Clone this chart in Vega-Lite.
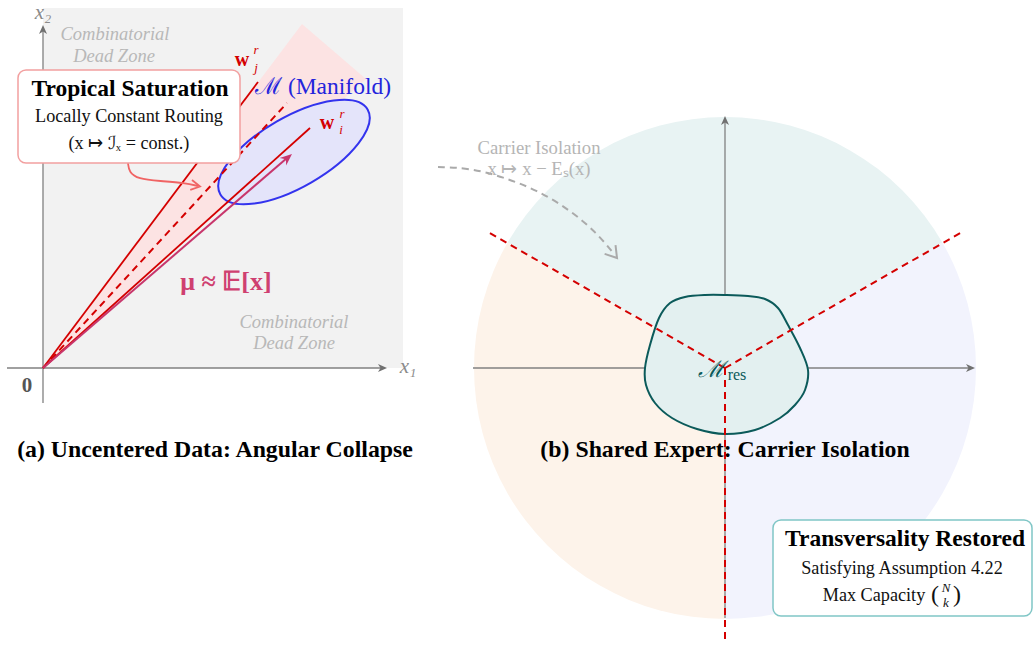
{
  "$schema": "https://vega.github.io/schema/vega-lite/v6.json",
  "width": 1034,
  "height": 645,
  "autosize": {"type": "fit", "contains": "padding"},
  "padding": 0,
  "background": "white",
  "config": {"view": {"stroke": null}, "text": {"font": "Liberation Serif"}},
  "datasets": {
    "bg": [{"x": 43, "y": 8, "x2": 403, "y2": 368}],
    "cone": [{"x": 43, "y": 368, "y2": 368}, {"x": 302, "y": 24, "y2": 136}, {"x": 366, "y": 79, "y2": 79}],
    "sectors": [
      {"x": 725, "y": 368, "sector": "top", "t1": 300, "t2": 420},
      {"x": 725, "y": 368, "sector": "right", "t1": 60, "t2": 180},
      {"x": 725, "y": 368, "sector": "left", "t1": 180, "t2": 300}
    ],
    "ellipse": [{"x": 294, "y": 152}],
    "axes": [
      {"x": 7, "y": 368, "x2": 381, "y2": 368},
      {"x": 43, "y": 403, "x2": 43, "y2": 31},
      {"x": 473, "y": 368, "x2": 969, "y2": 368},
      {"x": 725, "y": 618, "x2": 725, "y2": 122}
    ],
    "axisHeads": [
      {"x": 387, "y": 368, "a": 0},
      {"x": 43, "y": 25, "a": -90},
      {"x": 975, "y": 368, "a": 0},
      {"x": 725, "y": 116, "a": -90}
    ],
    "blob": [
      {"i": 0, "x": 725, "y": 295}, {"i": 1, "x": 748, "y": 296}, {"i": 2, "x": 765, "y": 299},
      {"i": 3, "x": 778, "y": 308}, {"i": 4, "x": 788, "y": 325}, {"i": 5, "x": 800, "y": 348},
      {"i": 6, "x": 808, "y": 370}, {"i": 7, "x": 805, "y": 390}, {"i": 8, "x": 795, "y": 405},
      {"i": 9, "x": 780, "y": 418}, {"i": 10, "x": 755, "y": 430}, {"i": 11, "x": 725, "y": 434},
      {"i": 12, "x": 697, "y": 429}, {"i": 13, "x": 672, "y": 418}, {"i": 14, "x": 655, "y": 403},
      {"i": 15, "x": 646, "y": 385}, {"i": 16, "x": 645, "y": 368}, {"i": 17, "x": 650, "y": 345},
      {"i": 18, "x": 659, "y": 318}, {"i": 19, "x": 670, "y": 303}, {"i": 20, "x": 685, "y": 297},
      {"i": 21, "x": 705, "y": 295}
    ],
    "redSolid": [
      {"x": 43, "y": 368, "x2": 258, "y2": 82},
      {"x": 43, "y": 368, "x2": 310, "y2": 128}
    ],
    "redDashed": [
      {"x": 43, "y": 368, "x2": 287, "y2": 103},
      {"x": 725, "y": 368, "x2": 488, "y2": 232},
      {"x": 725, "y": 368, "x2": 962, "y2": 232},
      {"x": 725, "y": 368, "x2": 725, "y2": 640}
    ],
    "mu": [{"x": 43, "y": 368, "x2": 287, "y2": 158}],
    "muHead": [{"x": 292, "y": 154, "a": -40.7}],
    "salmon": [
      {"i": 0, "x": 128, "y": 163}, {"i": 1, "x": 129, "y": 172}, {"i": 2, "x": 138, "y": 179},
      {"i": 3, "x": 160, "y": 181}, {"i": 4, "x": 185, "y": 183}, {"i": 5, "x": 198, "y": 186}
    ],
    "salmonHead": [{"x": 200, "y": 186.5, "a": 10}],
    "greyCurve": [
      {"i": 0, "x": 438, "y": 167}, {"i": 1, "x": 470, "y": 168}, {"i": 2, "x": 503, "y": 177},
      {"i": 3, "x": 537, "y": 190}, {"i": 4, "x": 570, "y": 210}, {"i": 5, "x": 597, "y": 233},
      {"i": 6, "x": 614, "y": 254}
    ],
    "greyHead": [{"x": 617, "y": 258, "a": 51}],
    "boxA": [{"x": 18, "y": 70, "x2": 240, "y2": 163}],
    "boxB": [{"x": 773, "y": 520, "x2": 1032, "y2": 616}],
    "deadZone": [
      {"x": 115, "y": 34, "t": "Combinatorial"}, {"x": 114, "y": 56, "t": "Dead Zone"},
      {"x": 294, "y": 322, "t": "Combinatorial"}, {"x": 294, "y": 343, "t": "Dead Zone"}
    ],
    "boxTitles": [
      {"x": 130, "y": 89, "t": "Tropical Saturation"},
      {"x": 905, "y": 539, "t": "Transversality Restored"}
    ],
    "boxBody": [
      {"x": 129, "y": 117, "t": "Locally Constant Routing"},
      {"x": 129, "y": 144, "t": "(x ↦ ℐₓ = const.)"},
      {"x": 902, "y": 569, "t": "Satisfying Assumption 4.22"},
      {"x": 874, "y": 596, "t": "Max Capacity"}
    ],
    "parens": [{"x": 935, "y": 595, "t": "("}, {"x": 957, "y": 595, "t": ")"}],
    "binom": [{"x": 946, "y": 588, "t": "N"}, {"x": 946, "y": 603, "t": "k"}],
    "captions": [
      {"x": 215, "y": 450, "t": "(a) Uncentered Data: Angular Collapse"},
      {"x": 725, "y": 450, "t": "(b) Shared Expert: Carrier Isolation"}
    ],
    "manifold": [{"x": 323, "y": 87, "t": "ℳ (Manifold)"}],
    "wBase": [{"x": 242, "y": 60, "t": "w"}, {"x": 327, "y": 123, "t": "w"}],
    "wScript": [
      {"x": 256, "y": 50, "t": "r"}, {"x": 256, "y": 68, "t": "j"},
      {"x": 342, "y": 114, "t": "r"}, {"x": 341, "y": 130, "t": "i"}
    ],
    "muLabel": [{"x": 226, "y": 282, "t": "μ ≈ 𝔼[x]"}],
    "axisLabels": [{"x": 408, "y": 367, "t": "x₁"}, {"x": 43, "y": 13, "t": "x₂"}],
    "zero": [{"x": 27, "y": 386, "t": "0"}],
    "carrier": [
      {"x": 539, "y": 148, "t": "Carrier Isolation"},
      {"x": 539, "y": 169, "t": "x ↦ x − Eₛ(x)"}
    ],
    "mres": [{"x": 711, "y": 370, "t": "ℳ"}],
    "mresSub": [{"x": 737, "y": 375, "t": "res"}]
  },
  "encoding": {
    "x": {"field": "x", "type": "quantitative", "axis": null, "scale": {"domain": [0, 1034], "nice": false, "zero": false}},
    "y": {"field": "y", "type": "quantitative", "axis": null, "scale": {"domain": [0, 645], "reverse": true, "nice": false, "zero": false}}
  },
  "layer": [
    {"data": {"name": "bg"}, "mark": {"type": "rect", "fill": "#f2f2f2"},
     "encoding": {"x2": {"field": "x2"}, "y2": {"field": "y2"}}},
    {"data": {"name": "sectors"}, "mark": {"type": "arc", "radius": 251},
     "encoding": {
       "theta": {"field": "t1", "type": "quantitative", "stack": null, "scale": {"domain": [0, 360], "range": [0, 6.283185307179586]}},
       "theta2": {"field": "t2"},
       "color": {"field": "sector", "type": "nominal", "legend": null, "scale": {"domain": ["top", "right", "left"], "range": ["#e8f3f3", "#f2f3fd", "#fdf3ea"]}}
     }},
    {"data": {"name": "cone"}, "mark": {"type": "area", "fill": "#fce3e3", "opacity": 1},
     "encoding": {"y2": {"field": "y2"}}},
    {"data": {"name": "ellipse"},
     "mark": {"type": "point", "shape": "M -85 0 A 85 35 0 1 0 85 0 A 85 35 0 1 0 -85 0 Z", "size": 4, "angle": -30, "filled": true, "fill": "#e4e4fa", "stroke": "#3333ee", "strokeWidth": 2, "opacity": 1}},
    {"data": {"name": "axes"}, "mark": {"type": "rule", "color": "#808080", "strokeWidth": 1.3},
     "encoding": {"x2": {"field": "x2"}, "y2": {"field": "y2"}}},
    {"data": {"name": "axisHeads"},
     "mark": {"type": "point", "shape": "M 0 0 L -9 -4 L -6.5 0 L -9 4 Z", "size": 4, "filled": true, "fill": "#707070", "strokeWidth": 0, "opacity": 1},
     "encoding": {"angle": {"field": "a", "type": "quantitative", "scale": null}}},
    {"data": {"name": "blob"},
     "mark": {"type": "line", "interpolate": "cardinal-closed", "fill": "#e3f0f0", "stroke": "#0b5a5a", "strokeWidth": 2},
     "encoding": {"order": {"field": "i", "type": "quantitative"}}},
    {"data": {"name": "redSolid"}, "mark": {"type": "rule", "color": "#d40000", "strokeWidth": 1.8},
     "encoding": {"x2": {"field": "x2"}, "y2": {"field": "y2"}}},
    {"data": {"name": "redDashed"}, "mark": {"type": "rule", "color": "#d40000", "strokeWidth": 2, "strokeDash": [7, 5]},
     "encoding": {"x2": {"field": "x2"}, "y2": {"field": "y2"}}},
    {"data": {"name": "mu"}, "mark": {"type": "rule", "color": "#c8366c", "strokeWidth": 2},
     "encoding": {"x2": {"field": "x2"}, "y2": {"field": "y2"}}},
    {"data": {"name": "muHead"},
     "mark": {"type": "point", "shape": "M 0 0 L -12 -5 L -8 0 L -12 5 Z", "size": 4, "filled": true, "fill": "#c8366c", "strokeWidth": 0, "opacity": 1},
     "encoding": {"angle": {"field": "a", "type": "quantitative", "scale": null}}},
    {"data": {"name": "salmon"}, "mark": {"type": "line", "interpolate": "basis", "color": "#f06464", "strokeWidth": 1.8},
     "encoding": {"order": {"field": "i", "type": "quantitative"}}},
    {"data": {"name": "salmonHead"},
     "mark": {"type": "point", "shape": "M -9 -5 L 0 0 L -9 5", "size": 4, "filled": false, "stroke": "#f06464", "strokeWidth": 1.8, "opacity": 1},
     "encoding": {"angle": {"field": "a", "type": "quantitative", "scale": null}}},
    {"data": {"name": "greyCurve"}, "mark": {"type": "line", "interpolate": "basis", "color": "#aaaaaa", "strokeWidth": 2, "strokeDash": [7, 5]},
     "encoding": {"order": {"field": "i", "type": "quantitative"}}},
    {"data": {"name": "greyHead"},
     "mark": {"type": "point", "shape": "M -11 -7 L 0 0 L -11 7", "size": 4, "filled": false, "stroke": "#aaaaaa", "strokeWidth": 2, "opacity": 1},
     "encoding": {"angle": {"field": "a", "type": "quantitative", "scale": null}}},
    {"data": {"name": "boxA"}, "mark": {"type": "rect", "fill": "#000000", "opacity": 0.12, "cornerRadius": 8, "xOffset": 2, "yOffset": 3},
     "encoding": {"x2": {"field": "x2"}, "y2": {"field": "y2"}}},
    {"data": {"name": "boxA"}, "mark": {"type": "rect", "fill": "white", "stroke": "#f2a0a0", "strokeWidth": 1.5, "cornerRadius": 8},
     "encoding": {"x2": {"field": "x2"}, "y2": {"field": "y2"}}},
    {"data": {"name": "boxB"}, "mark": {"type": "rect", "fill": "#000000", "opacity": 0.12, "cornerRadius": 8, "xOffset": 2, "yOffset": 3},
     "encoding": {"x2": {"field": "x2"}, "y2": {"field": "y2"}}},
    {"data": {"name": "boxB"}, "mark": {"type": "rect", "fill": "white", "stroke": "#80c6c6", "strokeWidth": 1.5, "cornerRadius": 8},
     "encoding": {"x2": {"field": "x2"}, "y2": {"field": "y2"}}},
    {"data": {"name": "deadZone"}, "mark": {"type": "text", "fontSize": 18.5, "fontStyle": "italic", "color": "#b8b8b8", "align": "center", "baseline": "middle"},
     "encoding": {"text": {"field": "t"}}},
    {"data": {"name": "boxTitles"}, "mark": {"type": "text", "fontSize": 23.5, "fontWeight": "bold", "color": "#000000", "align": "center", "baseline": "middle"},
     "encoding": {"text": {"field": "t"}}},
    {"data": {"name": "boxBody"}, "mark": {"type": "text", "fontSize": 18.2, "color": "#111111", "align": "center", "baseline": "middle"},
     "encoding": {"text": {"field": "t"}}},
    {"data": {"name": "parens"}, "mark": {"type": "text", "fontSize": 24, "color": "#111111", "align": "center", "baseline": "middle"},
     "encoding": {"text": {"field": "t"}}},
    {"data": {"name": "binom"}, "mark": {"type": "text", "fontSize": 13, "fontStyle": "italic", "color": "#111111", "align": "center", "baseline": "middle"},
     "encoding": {"text": {"field": "t"}}},
    {"data": {"name": "captions"}, "mark": {"type": "text", "fontSize": 23.8, "fontWeight": "bold", "color": "#000000", "align": "center", "baseline": "middle"},
     "encoding": {"text": {"field": "t"}}},
    {"data": {"name": "manifold"}, "mark": {"type": "text", "fontSize": 23.5, "color": "#2424dc", "align": "center", "baseline": "middle"},
     "encoding": {"text": {"field": "t"}}},
    {"data": {"name": "wBase"}, "mark": {"type": "text", "fontSize": 20, "fontWeight": "bold", "color": "#d40000", "align": "center", "baseline": "middle"},
     "encoding": {"text": {"field": "t"}}},
    {"data": {"name": "wScript"}, "mark": {"type": "text", "fontSize": 13, "fontStyle": "italic", "color": "#d40000", "align": "center", "baseline": "middle"},
     "encoding": {"text": {"field": "t"}}},
    {"data": {"name": "muLabel"}, "mark": {"type": "text", "fontSize": 26, "fontWeight": "bold", "color": "#cf4070", "align": "center", "baseline": "middle"},
     "encoding": {"text": {"field": "t"}}},
    {"data": {"name": "axisLabels"}, "mark": {"type": "text", "fontSize": 21, "fontStyle": "italic", "color": "#8a8a8a", "align": "center", "baseline": "middle"},
     "encoding": {"text": {"field": "t"}}},
    {"data": {"name": "zero"}, "mark": {"type": "text", "fontSize": 21, "fontWeight": "bold", "color": "#555555", "align": "center", "baseline": "middle"},
     "encoding": {"text": {"field": "t"}}},
    {"data": {"name": "carrier"}, "mark": {"type": "text", "fontSize": 18.7, "color": "#b5b5b5", "align": "center", "baseline": "middle"},
     "encoding": {"text": {"field": "t"}}},
    {"data": {"name": "mres"}, "mark": {"type": "text", "fontSize": 23, "fontStyle": "italic", "color": "#0b5a5a", "align": "center", "baseline": "middle"},
     "encoding": {"text": {"field": "t"}}},
    {"data": {"name": "mresSub"}, "mark": {"type": "text", "fontSize": 16, "color": "#0b5a5a", "align": "center", "baseline": "middle"},
     "encoding": {"text": {"field": "t"}}}
  ]
}
